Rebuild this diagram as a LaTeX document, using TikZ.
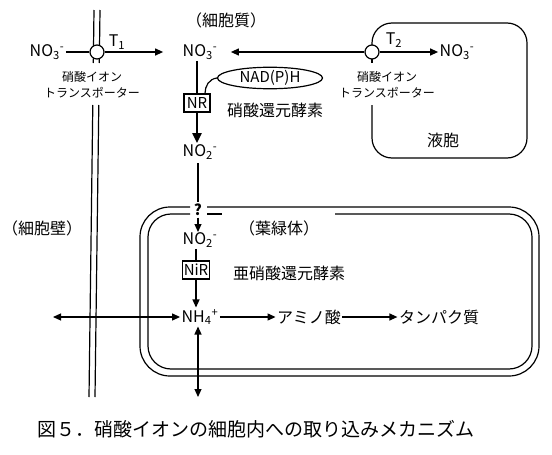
\documentclass[tikz,border=0pt]{standalone}
\usepackage{fontspec}
\setmainfont{Noto Sans CJK JP}
\usetikzlibrary{arrows.meta,shapes.geometric}
\newcommand{\ionlbl}[3]{#1\textsubscript{#2}\textsuperscript{#3}}
\tikzset{
 >={Triangle[length=8pt,width=7pt]},
 lbl/.style={font=\fontsize{16}{18}\selectfont, inner sep=1pt},
 sml/.style={font=\fontsize{12}{16}\selectfont, align=center, inner sep=0pt},
 enzbox/.style={draw, font=\fontsize{15}{17}\selectfont, inner sep=1pt, minimum width=26pt, minimum height=18pt},
 port/.style={circle, draw, fill=white, minimum size=14pt, inner sep=0pt}
}
\begin{document}
\begin{tikzpicture}[x=1pt,y=-1pt,line width=1.2pt]
 \useasboundingbox (0,0) rectangle (552,455);
 % cell wall
 \draw (94,10)--(93.3,63) (100,10)--(99.3,63);
 \draw (92.8,105)--(89,397) (98.8,105)--(95,397);
 % vacuole
 \draw[rounded corners=20pt] (372,45)--(372,23)--(527,23)--(527,158)--(372,158)--(372,105);
 \draw (372,58)--(372,63);
 % chloroplast
 \draw[rounded corners=30pt] (190,207)--(140,207)--(140,376)--(539,376)--(539,207)--(207,207);
 \draw[rounded corners=23pt] (190,214)--(148,214)--(148,369)--(532,369)--(532,214)--(335,214);
 \draw (207,214)--(222,214);
 % nodes
 \node[port] (p1) at (97,52) {};
 \node[port] (p2) at (372,52) {};
 \node[lbl] (noL) at (47,52) {\ionlbl{NO}{3}{-}};
 \node[lbl] (noC) at (200,52) {\ionlbl{NO}{3}{-}};
 \node[lbl] (noR) at (457,52) {\ionlbl{NO}{3}{-}};
 \node[lbl] at (117,42) {T\textsubscript{1}};
 \node[lbl] at (394,40) {T\textsubscript{2}};
 \node[sml] at (92,85) {硝酸イオン\\トランスポーター};
 \node[sml] at (387,85) {硝酸イオン\\トランスポーター};
 \node[lbl] at (226,20) {（細胞質）};
 \node[lbl] at (443,140) {液胞};
 \node[enzbox] (nr) at (197,103) {NR};
 \node[draw, ellipse, minimum width=105pt, minimum height=20pt, inner sep=0pt, font=\fontsize{15}{17}\selectfont] (nad) at (270,78) {NAD(P)H};
 \node[lbl] at (275,110) {硝酸還元酵素};
 \node[lbl] (no2a) at (200,152) {\ionlbl{NO}{2}{-}};
 \node[lbl, font=\fontsize{15}{17}\selectfont\bfseries] (q) at (198,210) {?};
 \node[lbl] (no2b) at (200,240) {\ionlbl{NO}{2}{-}};
 \node[enzbox] (nir) at (196,270) {NiR};
 \node[lbl] at (289,273) {亜硝酸還元酵素};
 \node[lbl] at (279,228) {（葉緑体）};
 \node[lbl] at (42,228) {（細胞壁）};
 \node[lbl] (nh4) at (200,317) {\ionlbl{NH}{4}{+}};
 \node[lbl] (amino) at (309,317) {アミノ酸};
 \node[lbl] (prot) at (439,317) {タンパク質};
 \node[font=\fontsize{19}{21}\selectfont] at (256,429) {図５．硝酸イオンの細胞内への取り込みメカニズム};
 \coordinate (wl) at (53,317);
 \coordinate (vb) at (198,397);
 % connectors
 \draw (noL) -- (p1);
 \draw[->, shorten >=18pt] (p1) -- (noC);
 \draw[->, shorten >=12pt] (p2) -- (noC);
 \draw[->] (p2) -- (noR);
 \draw (nr.north |- noC.south) -- (nr.north);
 \draw (nad.west) .. controls (209,79) and (205,86) .. ([xshift=8pt]nr.north);
 \draw[line width=2pt, -{Triangle[length=10pt,width=9pt]}] (nr.south) -- (nr.south |- no2a.north);
 \draw (198,163) -- (q.north);
 \draw[->] (q.south) -- (198,232);
 \draw (no2b.south -| nir.north) -- (nir.north);
 \draw[->] (nir.south) -- (nir.south |- nh4.north);
 \draw[<->] (wl) -- (nh4.west);
 \draw[<->] (nh4.south -| vb) -- (vb);
 \draw[->] (nh4.east) -- (amino.west);
 \draw[->] (amino.east) -- (prot.west);
\end{tikzpicture}
\end{document}
